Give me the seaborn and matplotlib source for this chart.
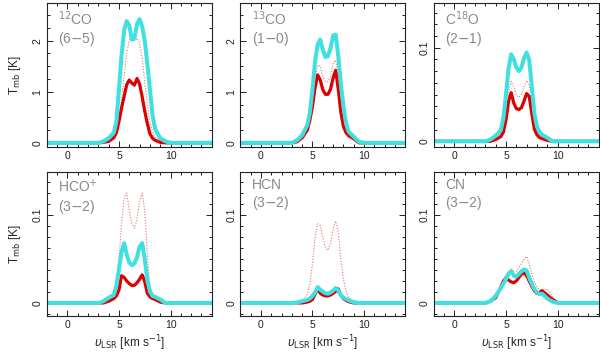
import numpy as np
import pandas as pd
import seaborn as sns
import matplotlib.pyplot as plt
from matplotlib.ticker import MultipleLocator, FormatStrFormatter

# velocity grid (km/s) shared by all spectra
vel = [-2, 3.0, 3.5, 4.0, 4.5, 4.75, 5.0, 5.25, 5.5, 5.75, 6.0, 6.25, 6.5,
       6.75, 7.0, 7.25, 7.5, 7.75, 8.0, 8.25, 8.5, 9.0, 9.5, 10.0, 10.5, 14]

lines = ['$^{12}$CO\n(6$-$5)', '$^{13}$CO\n(1$-$0)', 'C$^{18}$O\n(2$-$1)',
         'HCO$^{+}$\n(3$-$2)', 'HCN\n(3$-$2)', 'CN\n(3$-$2)']

# cyan (thick), red (thick), dotted model per line
co12_cyan = [0, 0, 0.03, 0.09, 0.2, 0.42, 1.05, 1.72, 2.2, 2.38, 2.3, 2.02, 2.05,
             2.32, 2.42, 2.28, 2.0, 1.55, 1.05, 0.55, 0.28, 0.09, 0.03, 0, 0, 0]
co12_red = [0, 0, 0.01, 0.03, 0.1, 0.2, 0.42, 0.68, 0.91, 1.14, 1.23, 1.17, 1.13,
            1.26, 1.15, 0.9, 0.62, 0.38, 0.18, 0.09, 0.05, 0.01, 0, 0, 0, 0]
co12_dot = [0, 0, 0.01, 0.04, 0.13, 0.25, 0.45, 0.85, 1.3, 1.75, 2.0, 2.08, 2.0,
            2.05, 1.95, 1.65, 1.2, 0.78, 0.42, 0.22, 0.12, 0.04, 0.01, 0, 0, 0]

co13_cyan = [0, 0, 0.05, 0.15, 0.35, 0.6, 1.05, 1.6, 1.92, 2.02, 1.82, 1.68, 1.7,
             1.85, 2.1, 2.12, 1.7, 1.15, 0.72, 0.39, 0.22, 0.12, 0.02, 0, 0, 0]
co13_red = [0, 0, 0.02, 0.1, 0.25, 0.45, 0.72, 1.08, 1.33, 1.23, 1.04, 0.95, 0.95,
            1.05, 1.27, 1.42, 1.05, 0.6, 0.32, 0.2, 0.14, 0.08, 0, 0, 0, 0]
co13_dot = [0, 0, 0.03, 0.12, 0.3, 0.5, 0.85, 1.25, 1.52, 1.5, 1.3, 1.2, 1.2,
            1.3, 1.55, 1.62, 1.3, 0.8, 0.45, 0.25, 0.17, 0.09, 0.01, 0, 0, 0]

c18o_cyan = [0, 0, 0.002, 0.006, 0.012, 0.025, 0.05, 0.078, 0.093, 0.088, 0.079,
             0.075, 0.079, 0.089, 0.095, 0.087, 0.059, 0.03, 0.016, 0.01, 0.007,
             0.004, 0, 0, 0, 0]
c18o_red = [0, 0, 0, 0.002, 0.005, 0.01, 0.023, 0.043, 0.052, 0.041, 0.035, 0.034,
            0.036, 0.043, 0.051, 0.048, 0.03, 0.013, 0.007, 0.004, 0.003, 0.001,
            0, 0, 0, 0]
c18o_dot = [0, 0, 0, 0.003, 0.008, 0.015, 0.03, 0.052, 0.064, 0.058, 0.05, 0.047,
            0.05, 0.058, 0.065, 0.06, 0.04, 0.018, 0.009, 0.005, 0.003, 0.001,
            0, 0, 0, 0]

hco_cyan = [0, 0, 0.002, 0.006, 0.009, 0.02, 0.038, 0.058, 0.068, 0.055, 0.046,
            0.043, 0.045, 0.052, 0.064, 0.068, 0.05, 0.026, 0.013, 0.008, 0.007,
            0.004, 0, 0, 0, 0]
hco_red = [0, 0, 0, 0.002, 0.005, 0.008, 0.015, 0.031, 0.029, 0.025, 0.022, 0.02,
           0.02, 0.023, 0.027, 0.032, 0.024, 0.011, 0.007, 0.005, 0.004, 0.001,
           0, 0, 0, 0]
hco_dot = [0, 0, 0, 0.003, 0.01, 0.025, 0.05, 0.09, 0.12, 0.125, 0.105, 0.09,
           0.085, 0.095, 0.115, 0.125, 0.105, 0.055, 0.02, 0.01, 0.006, 0.002,
           0, 0, 0, 0]

hcn_cyan = [0, 0, 0.0005, 0.002, 0.0035, 0.005, 0.008, 0.012, 0.018, 0.015, 0.013,
            0.011, 0.0105, 0.012, 0.014, 0.017, 0.014, 0.009, 0.006, 0.0045, 0.003,
            0.001, 0, 0, 0, 0]
hcn_red = [0, 0, 0, 0, 0.001, 0.002, 0.004, 0.01, 0.016, 0.011, 0.009, 0.008,
           0.008, 0.009, 0.011, 0.013, 0.016, 0.009, 0.005, 0.003, 0.0015, 0,
           0, 0, 0, 0]
hcn_dot = [0, 0, 0, 0.002, 0.01, 0.022, 0.045, 0.075, 0.09, 0.088, 0.075, 0.063,
           0.06, 0.068, 0.085, 0.093, 0.08, 0.05, 0.027, 0.014, 0.006, 0.002,
           0, 0, 0, 0]

cn_cyan = [0, 0, 0.002, 0.008, 0.017, 0.022, 0.027, 0.033, 0.036, 0.031, 0.03,
           0.033, 0.036, 0.038, 0.037, 0.029, 0.022, 0.016, 0.012, 0.01, 0.0105,
           0.005, 0.0015, 0, 0, 0]
cn_red = [0, 0, 0.002, 0.006, 0.018, 0.025, 0.028, 0.026, 0.024, 0.023, 0.025,
          0.029, 0.033, 0.034, 0.031, 0.025, 0.019, 0.014, 0.011, 0.012, 0.014,
          0.009, 0.004, 0.0005, 0, 0]
cn_dot = [0, 0, 0.001, 0.005, 0.02, 0.027, 0.032, 0.036, 0.039, 0.036, 0.036,
          0.04, 0.045, 0.05, 0.053, 0.045, 0.033, 0.024, 0.018, 0.015, 0.014,
          0.016, 0.007, 0.001, 0, 0]

cyan_list = [co12_cyan, co13_cyan, c18o_cyan, hco_cyan, hcn_cyan, cn_cyan]
red_list = [co12_red, co13_red, c18o_red, hco_red, hcn_red, cn_red]
dot_list = [co12_dot, co13_dot, c18o_dot, hco_dot, hcn_dot, cn_dot]

ylims = [(-0.08, 2.74), (-0.08, 2.74), (-0.006, 0.148),
         (-0.015, 0.149), (-0.015, 0.149), (-0.015, 0.149)]

sns.set_style('ticks')
plt.rcParams['font.family'] = ['Liberation Sans', 'DejaVu Sans']
plt.rcParams['mathtext.fontset'] = 'dejavusans'

fig, axes = plt.subplots(2, 3, figsize=(6, 3.54), dpi=100)
fig.subplots_adjust(left=0.078, right=0.998, top=0.992, bottom=0.107,
                    wspace=0.173, hspace=0.174)

for i, ax in enumerate(axes.flat):
    df = pd.DataFrame({'v': vel, 'cyan': cyan_list[i], 'red': red_list[i],
                       'dot': dot_list[i]})
    sns.lineplot(data=df, x='v', y='dot', ax=ax, color='#e05050', lw=0.8,
                 ls=(0, (1, 1.5)), alpha=0.8)
    sns.lineplot(data=df, x='v', y='red', ax=ax, color='#dd0000', lw=2.3)
    sns.lineplot(data=df, x='v', y='cyan', ax=ax, color='#40e0e0', lw=2.9)

    ax.set_xlim(-2, 14)
    ax.set_ylim(*ylims[i])
    ax.xaxis.set_major_locator(MultipleLocator(5))
    ax.xaxis.set_minor_locator(MultipleLocator(1))
    if i < 2:
        ax.yaxis.set_major_locator(MultipleLocator(1))
        ax.yaxis.set_minor_locator(MultipleLocator(0.25))
    else:
        ax.yaxis.set_major_locator(MultipleLocator(0.1))
        ax.yaxis.set_minor_locator(MultipleLocator(0.0125))
    ax.yaxis.set_major_formatter(FormatStrFormatter('%g'))
    ax.tick_params(which='both', direction='in', top=True, right=True,
                   width=0.7, colors='#222222', labelsize=7.5, pad=3)
    ax.tick_params(which='major', length=4.5)
    ax.tick_params(which='minor', length=2.2)
    for lab in ax.get_yticklabels():
        lab.set_rotation(90)
        lab.set_va('center')
    for sp in ax.spines.values():
        sp.set_linewidth(0.8)
        sp.set_color('#222222')

    ax.text(0.07, 0.955, lines[i], transform=ax.transAxes, ha='left', va='top',
            fontsize=10, color='#8a8a8a', linespacing=1.15)

    ax.set_xlabel('$\\upsilon_{\\rm LSR}$ [km s$^{-1}$]' if i >= 3 else '',
                  fontsize=8.5, labelpad=2)
    ax.set_ylabel('T$_{\\rm mb}$ [K]' if i % 3 == 0 else '', fontsize=8.5,
                  labelpad=7)

fig.savefig('out.png', dpi=100)
